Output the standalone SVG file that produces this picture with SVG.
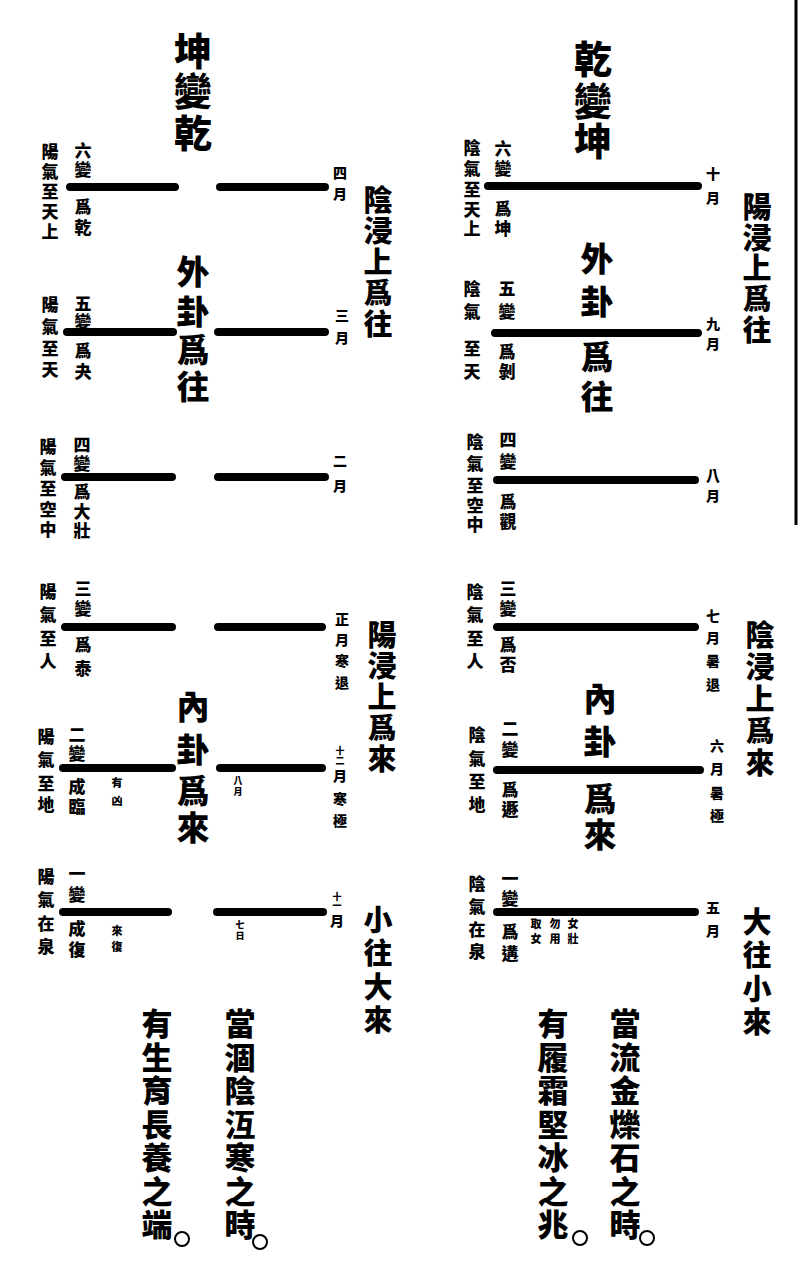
<svg xmlns="http://www.w3.org/2000/svg" width="800" height="1273" viewBox="0 0 800 1273">
<style>
text{font-family:"Noto Sans CJK TC","Noto Sans CJK SC",sans-serif;font-weight:900;fill:#000;text-anchor:middle;dominant-baseline:central}
.s{font-size:17px}.m{font-size:14px}.b{font-size:29px}.h{font-size:38px}.c{font-size:33px}.t{font-size:11px}.e{font-size:31px}.x{font-size:9px}
.ln{stroke:#000;stroke-width:8;stroke-linecap:round;fill:none}
.o{fill:none;stroke:#000;stroke-width:2}
</style>
<rect width="800" height="1273" fill="#fff"/>
<line x1="796" y1="0" x2="796" y2="525" stroke="#000" stroke-width="3"/>
<g id="connectors"></g>

<!-- LEFT FIGURE: 坤變乾 -->
<g id="left-title"><text class="h"><tspan x="193" y="48">坤</tspan><tspan x="193" y="88">變</tspan><tspan x="193" y="130">乾</tspan></text></g>
<g id="left-outer"><text class="c"><tspan x="193" y="270">外</tspan><tspan x="193" y="310">卦</tspan><tspan x="193" y="348">爲</tspan><tspan x="193" y="385">往</tspan></text></g>
<g id="left-inner"><text class="c"><tspan x="193" y="705">內</tspan><tspan x="193" y="748">卦</tspan><tspan x="193" y="789">爲</tspan><tspan x="193" y="826">來</tspan></text></g>
<g id="left-side1"><text class="b"><tspan x="378" y="198">陰</tspan><tspan x="378" y="229">浸</tspan><tspan x="378" y="260">上</tspan><tspan x="378" y="291">爲</tspan><tspan x="378" y="322">往</tspan></text></g>
<g id="left-side2"><text class="b"><tspan x="382" y="633">陽</tspan><tspan x="382" y="664">浸</tspan><tspan x="382" y="695">上</tspan><tspan x="382" y="726">爲</tspan><tspan x="382" y="757">來</tspan></text></g>
<g id="left-side3"><text class="b"><tspan x="378" y="918">小</tspan><tspan x="378" y="951">往</tspan><tspan x="378" y="985">大</tspan><tspan x="378" y="1018">來</tspan></text></g>

<g id="L6">
<line class="ln" x1="70" y1="187" x2="175" y2="187"/><line class="ln" x1="220" y1="187" x2="325" y2="187"/>
<text class="s"><tspan x="50" y="150">陽</tspan><tspan x="50" y="170">氣</tspan><tspan x="50" y="190">至</tspan><tspan x="50" y="210">天</tspan><tspan x="50" y="230">上</tspan></text>
<text class="s"><tspan x="83" y="149">六</tspan><tspan x="83" y="168">變</tspan><tspan x="83" y="205">爲</tspan><tspan x="83" y="226">乾</tspan></text>
<text class="m"><tspan x="340" y="172">四</tspan><tspan x="340" y="193">月</tspan></text>
</g>
<g id="L5">
<line class="ln" x1="67" y1="332" x2="173" y2="332"/><line class="ln" x1="218" y1="332" x2="325" y2="332"/>
<text class="s"><tspan x="50" y="303">陽</tspan><tspan x="50" y="325">氣</tspan><tspan x="50" y="347">至</tspan><tspan x="50" y="368">天</tspan></text>
<text class="s"><tspan x="83" y="302">五</tspan><tspan x="83" y="320">變</tspan><tspan x="83" y="349">爲</tspan><tspan x="83" y="370">夬</tspan></text>
<text class="m"><tspan x="342" y="315">三</tspan><tspan x="342" y="337">月</tspan></text>
</g>
<g id="L4">
<line class="ln" x1="65" y1="477" x2="172" y2="477"/><line class="ln" x1="218" y1="477" x2="325" y2="477"/>
<text class="s"><tspan x="48" y="445">陽</tspan><tspan x="48" y="466">氣</tspan><tspan x="48" y="487">至</tspan><tspan x="48" y="508">空</tspan><tspan x="48" y="528">中</tspan></text>
<text class="s"><tspan x="82" y="443">四</tspan><tspan x="82" y="462">變</tspan><tspan x="82" y="490">爲</tspan><tspan x="82" y="510">大</tspan><tspan x="82" y="529">壯</tspan></text>
<text class="m"><tspan x="340" y="460">二</tspan><tspan x="340" y="485">月</tspan></text>
</g>
<g id="L3">
<line class="ln" x1="65" y1="627" x2="172" y2="627"/><line class="ln" x1="218" y1="627" x2="322" y2="627"/>
<text class="s"><tspan x="48" y="590">陽</tspan><tspan x="48" y="613">氣</tspan><tspan x="48" y="637">至</tspan><tspan x="48" y="660">人</tspan></text>
<text class="s"><tspan x="83" y="587">三</tspan><tspan x="83" y="607">變</tspan><tspan x="83" y="643">爲</tspan><tspan x="83" y="667">泰</tspan></text>
<text class="m"><tspan x="342" y="618">正</tspan><tspan x="342" y="639">月</tspan><tspan x="342" y="660">寒</tspan><tspan x="342" y="682">退</tspan></text>
</g>
<g id="L2">
<line class="ln" x1="63" y1="768" x2="172" y2="768"/><line class="ln" x1="220" y1="768" x2="322" y2="768"/>
<text class="s"><tspan x="46" y="735">陽</tspan><tspan x="46" y="758">氣</tspan><tspan x="46" y="782">至</tspan><tspan x="46" y="803">地</tspan></text>
<text class="s"><tspan x="77" y="733">二</tspan><tspan x="77" y="752">變</tspan><tspan x="77" y="785">成</tspan><tspan x="77" y="805">臨</tspan></text>
<text class="t"><tspan x="117" y="782">有</tspan><tspan x="117" y="800">凶</tspan></text>
<text class="x"><tspan x="238" y="780">八</tspan><tspan x="238" y="791">月</tspan></text>
<text class="m"><tspan x="340" y="750" class="x">十</tspan><tspan x="340" y="760" class="x">二</tspan><tspan x="340" y="775">月</tspan><tspan x="340" y="798">寒</tspan><tspan x="340" y="820">極</tspan></text>
</g>
<g id="L1">
<line class="ln" x1="63" y1="912" x2="168" y2="912"/><line class="ln" x1="217" y1="912" x2="323" y2="912"/>
<text class="s"><tspan x="46" y="875">陽</tspan><tspan x="46" y="898">氣</tspan><tspan x="46" y="922">在</tspan><tspan x="46" y="945">泉</tspan></text>
<text class="s"><tspan x="77" y="872">一</tspan><tspan x="77" y="893">變</tspan><tspan x="77" y="927">成</tspan><tspan x="77" y="948">復</tspan></text>
<text class="t"><tspan x="117" y="930">來</tspan><tspan x="117" y="946">復</tspan></text>
<text class="x"><tspan x="240" y="924">七</tspan><tspan x="240" y="935">日</tspan></text>
<text class="m"><tspan x="337" y="896" class="x">十</tspan><tspan x="337" y="905" class="x">一</tspan><tspan x="337" y="920">月</tspan></text>
</g>
<g id="left-bottom">
<text class="e"><tspan x="240" y="1021">當</tspan><tspan x="240" y="1055">涸</tspan><tspan x="240" y="1088">陰</tspan><tspan x="240" y="1122">沍</tspan><tspan x="240" y="1155">寒</tspan><tspan x="240" y="1189">之</tspan><tspan x="240" y="1222">時</tspan></text>
<circle class="o" cx="260" cy="1242" r="7"/>
<text class="e"><tspan x="157" y="1021">有</tspan><tspan x="157" y="1055">生</tspan><tspan x="157" y="1088">育</tspan><tspan x="157" y="1122">長</tspan><tspan x="157" y="1155">養</tspan><tspan x="157" y="1189">之</tspan><tspan x="157" y="1222">端</tspan></text>
<circle class="o" cx="182" cy="1239" r="7"/>
</g>

<!-- RIGHT FIGURE: 乾變坤 -->
<g id="right-title"><text class="h"><tspan x="593" y="56">乾</tspan><tspan x="593" y="98">變</tspan><tspan x="593" y="138">坤</tspan></text></g>
<g id="right-outer"><text class="c"><tspan x="597" y="257">外</tspan><tspan x="597" y="300">卦</tspan><tspan x="597" y="355">爲</tspan><tspan x="597" y="395">往</tspan></text></g>
<g id="right-inner"><text class="c"><tspan x="600" y="697">內</tspan><tspan x="600" y="740">卦</tspan><tspan x="600" y="797">爲</tspan><tspan x="600" y="833">來</tspan></text></g>
<g id="right-side1"><text class="b"><tspan x="757" y="205">陽</tspan><tspan x="757" y="236">浸</tspan><tspan x="757" y="266">上</tspan><tspan x="757" y="297">爲</tspan><tspan x="757" y="328">往</tspan></text></g>
<g id="right-side2"><text class="b"><tspan x="760" y="633">陰</tspan><tspan x="760" y="665">浸</tspan><tspan x="760" y="697">上</tspan><tspan x="760" y="729">爲</tspan><tspan x="760" y="761">來</tspan></text></g>
<g id="right-side3"><text class="b"><tspan x="757" y="920">大</tspan><tspan x="757" y="953">往</tspan><tspan x="757" y="987">小</tspan><tspan x="757" y="1020">來</tspan></text></g>

<g id="R6">
<line class="ln" x1="488" y1="186" x2="698" y2="186"/>
<text class="s"><tspan x="472" y="146">陰</tspan><tspan x="472" y="167">氣</tspan><tspan x="472" y="188">至</tspan><tspan x="472" y="208">天</tspan><tspan x="472" y="227">上</tspan></text>
<text class="s"><tspan x="503" y="147">六</tspan><tspan x="503" y="167">變</tspan><tspan x="503" y="207">爲</tspan><tspan x="503" y="227">坤</tspan></text>
<text class="m"><tspan x="713" y="173">十</tspan><tspan x="713" y="197">月</tspan></text>
</g>
<g id="R5">
<line class="ln" x1="495" y1="333" x2="698" y2="333"/>
<text class="s"><tspan x="472" y="287">陰</tspan><tspan x="472" y="310">氣</tspan><tspan x="472" y="347">至</tspan><tspan x="472" y="370">天</tspan></text>
<text class="s"><tspan x="507" y="287">五</tspan><tspan x="507" y="310">變</tspan><tspan x="507" y="350">爲</tspan><tspan x="507" y="370">剝</tspan></text>
<text class="m"><tspan x="713" y="323">九</tspan><tspan x="713" y="343">月</tspan></text>
</g>
<g id="R4">
<line class="ln" x1="497" y1="480" x2="695" y2="480"/>
<text class="s"><tspan x="475" y="440">陰</tspan><tspan x="475" y="462">氣</tspan><tspan x="475" y="484">至</tspan><tspan x="475" y="504">空</tspan><tspan x="475" y="523">中</tspan></text>
<text class="s"><tspan x="508" y="438">四</tspan><tspan x="508" y="460">變</tspan><tspan x="508" y="500">爲</tspan><tspan x="508" y="520">觀</tspan></text>
<text class="m"><tspan x="713" y="475">八</tspan><tspan x="713" y="495">月</tspan></text>
</g>
<g id="R3">
<line class="ln" x1="497" y1="627" x2="695" y2="627"/>
<text class="s"><tspan x="475" y="590">陰</tspan><tspan x="475" y="613">氣</tspan><tspan x="475" y="637">至</tspan><tspan x="475" y="660">人</tspan></text>
<text class="s"><tspan x="508" y="587">三</tspan><tspan x="508" y="607">變</tspan><tspan x="508" y="643">爲</tspan><tspan x="508" y="663">否</tspan></text>
<text class="m"><tspan x="713" y="615">七</tspan><tspan x="713" y="637">月</tspan><tspan x="713" y="660">暑</tspan><tspan x="713" y="684">退</tspan></text>
</g>
<g id="R2">
<line class="ln" x1="497" y1="770" x2="700" y2="770"/>
<text class="s"><tspan x="477" y="733">陰</tspan><tspan x="477" y="757">氣</tspan><tspan x="477" y="780">至</tspan><tspan x="477" y="803">地</tspan></text>
<text class="s"><tspan x="510" y="727">二</tspan><tspan x="510" y="748">變</tspan><tspan x="510" y="788">爲</tspan><tspan x="510" y="808">遯</tspan></text>
<text class="m"><tspan x="717" y="745">六</tspan><tspan x="717" y="768">月</tspan><tspan x="717" y="792">暑</tspan><tspan x="717" y="815">極</tspan></text>
</g>
<g id="R1">
<line class="ln" x1="497" y1="912" x2="695" y2="912"/>
<text class="s"><tspan x="477" y="882">陰</tspan><tspan x="477" y="905">氣</tspan><tspan x="477" y="928">在</tspan><tspan x="477" y="950">泉</tspan></text>
<text class="s"><tspan x="510" y="877">一</tspan><tspan x="510" y="897">變</tspan><tspan x="510" y="930">爲</tspan><tspan x="510" y="952">遘</tspan></text>
<text class="t"><tspan x="573" y="923">女</tspan><tspan x="573" y="938">壯</tspan></text>
<text class="t"><tspan x="555" y="923">勿</tspan><tspan x="555" y="938">用</tspan></text>
<text class="t"><tspan x="536" y="923">取</tspan><tspan x="536" y="938">女</tspan></text>
<text class="m"><tspan x="713" y="907">五</tspan><tspan x="713" y="930">月</tspan></text>
</g>
<g id="right-bottom">
<text class="e"><tspan x="625" y="1021">當</tspan><tspan x="625" y="1055">流</tspan><tspan x="625" y="1088">金</tspan><tspan x="625" y="1122">爍</tspan><tspan x="625" y="1155">石</tspan><tspan x="625" y="1189">之</tspan><tspan x="625" y="1222">時</tspan></text>
<circle class="o" cx="647" cy="1238" r="7"/>
<text class="e"><tspan x="553" y="1021">有</tspan><tspan x="553" y="1055">履</tspan><tspan x="553" y="1088">霜</tspan><tspan x="553" y="1122">堅</tspan><tspan x="553" y="1155">冰</tspan><tspan x="553" y="1189">之</tspan><tspan x="553" y="1222">兆</tspan></text>
<circle class="o" cx="580" cy="1238" r="7"/>
</g>
</svg>
